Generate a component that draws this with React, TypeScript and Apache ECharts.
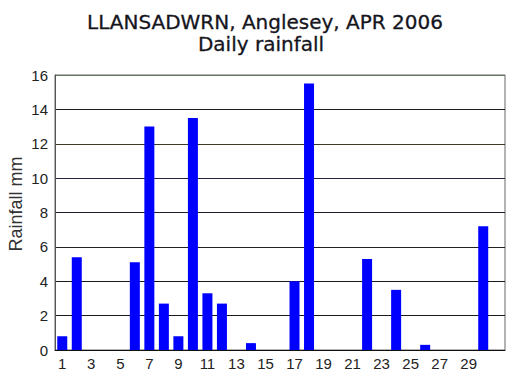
import React, { useEffect, useRef } from "react";
import * as echarts from "echarts";

const titleLine1 = "LLANSADWRN, Anglesey, APR 2006";
const titleLine2 = "Daily rainfall";
const yAxisName = "Rainfall mm";
const days = [
  "1", "2", "3", "4", "5", "6", "7", "8", "9", "10",
  "11", "12", "13", "14", "15", "16", "17", "18", "19", "20",
  "21", "22", "23", "24", "25", "26", "27", "28", "29", "30",
];
const rainfall = [
  0.8, 5.4, 0, 0, 0, 5.1, 13.0, 2.7, 0.8, 13.5,
  3.3, 2.7, 0, 0.4, 0, 0, 4.0, 15.5, 0, 0,
  0, 5.3, 0, 3.5, 0, 0.3, 0, 0, 0, 7.2,
];
const yMin = 0;
const yMax = 16;
const yInterval = 2;

export default function App() {
  const ref = useRef<HTMLDivElement>(null);
  useEffect(() => {
    if (!ref.current) return;
    const chart = echarts.init(ref.current, null, { renderer: "svg" });
    const categories = [...days, ""];
    const values = [...rainfall.map((v) => (v === 0 ? null : v)), null];
    chart.setOption({
      animation: false,
      backgroundColor: "#ffffff",
      grid: {
        left: 55,
        right: 27,
        top: 75,
        bottom: 28,
        show: true,
        borderColor: "#666666",
        borderWidth: 1,
        backgroundColor: "#ffffff",
      },
      graphic: [
        {
          type: "text",
          x: 265,
          y: 22,
          style: {
            text: titleLine1,
            fontFamily: "DejaVu Sans",
            fontSize: 20,
            fill: "#151520",
            stroke: "#151520",
            lineWidth: 0.3,
            align: "center",
            verticalAlign: "middle",
          },
        },
        {
          type: "text",
          x: 261,
          y: 44,
          style: {
            text: titleLine2,
            fontFamily: "DejaVu Sans",
            fontSize: 20,
            fill: "#151520",
            stroke: "#151520",
            lineWidth: 0.3,
            align: "center",
            verticalAlign: "middle",
          },
        },
        {
          type: "text",
          x: 16,
          y: 204,
          rotation: Math.PI / 2,
          style: {
            text: yAxisName,
            fontFamily: "Liberation Sans",
            fontSize: 18,
            fill: "#333333",
            align: "center",
            verticalAlign: "middle",
          },
        },
      ],
      xAxis: {
        type: "category",
        data: categories,
        boundaryGap: true,
        axisLine: { show: true, lineStyle: { color: "#111111", width: 1 } },
        axisTick: { show: false },
        axisLabel: {
          interval: 1,
          margin: 6,
          color: "#222222",
          fontFamily: "Liberation Sans",
          fontSize: 15,
        },
        splitLine: { show: false },
      },
      yAxis: {
        type: "value",
        min: yMin,
        max: yMax,
        interval: yInterval,
        axisLine: { show: true, lineStyle: { color: "#555555" } },
        axisTick: { show: false },
        axisLabel: {
          margin: 7,
          color: "#222222",
          fontFamily: "Liberation Sans",
          fontSize: 15,
        },
        splitLine: {
          show: true,
          lineStyle: {
            color: [
              "#111111", "#1a1a1a", "#1a1a1a", "#222222", "#1e1e30",
              "#2a2440", "#3e3a26", "#1a1a1a", "#5f7a5f",
            ],
            width: 1,
          },
        },
      },
      series: [
        {
          type: "bar",
          data: values,
          barWidth: 10,
          itemStyle: { color: "#0000ff" },
        },
      ],
    });
    return () => chart.dispose();
  }, []);
  return (
    <div
      ref={ref}
      style={{ position: "fixed", left: 0, top: 0, width: 532, height: 378 }}
    />
  );
}
